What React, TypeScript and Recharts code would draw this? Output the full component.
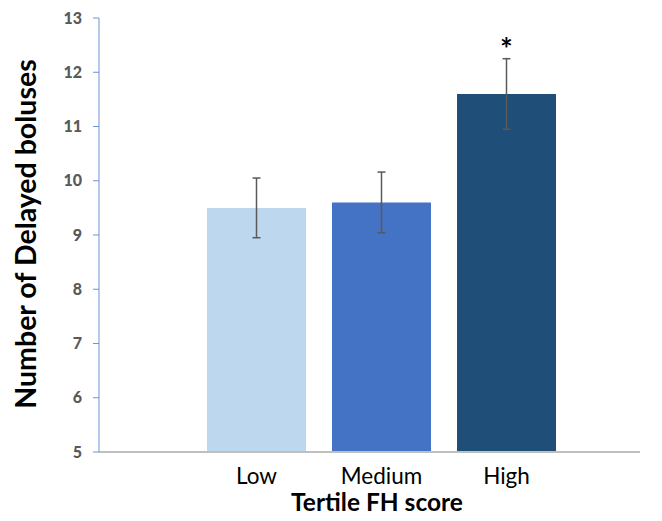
import {
  BarChart,
  Bar,
  Cell,
  XAxis,
  YAxis,
  ErrorBar,
  LabelList,
} from "recharts";

const categories = ["Low", "Medium", "High"];
const means = [9.5, 9.6, 11.6];
const errors = [0.55, 0.56, 0.65];
const marks = ["", "", "*"];
const colors = ["#bdd7ee", "#4472c4", "#1f4e79"];
const yTicks = [5, 6, 7, 8, 9, 10, 11, 12, 13];

const data = categories.map((name, i) => ({
  name,
  value: means[i],
  err: errors[i],
  sig: marks[i],
}));

const font = "Lato, 'Open Sans', sans-serif";

export default function App() {
  return (
    <div style={{ position: "absolute", left: 0, top: 0, background: "#fff" }}>
      <BarChart
        width={662}
        height={521}
        data={data}
        margin={{ top: 18, right: 22, bottom: 0, left: 0 }}
      >
        <XAxis
          dataKey="name"
          height={69}
          padding={{ left: 95, right: 71 }}
          axisLine={{ stroke: "#bfbfbf", strokeWidth: 2 }}
          tickLine={false}
          tick={{ fill: "#000", fontSize: 22.5, fontFamily: font }}
          tickMargin={10}
          label={{
            content: () => (
              <text
                x={377}
                y={511}
                textAnchor="middle"
                fontFamily={font}
                fontWeight="bold"
                fontSize={24.5}
                fill="#000"
              >
                Tertile FH score
              </text>
            ),
          }}
        />
        <YAxis
          width={99}
          domain={[5, 13]}
          ticks={yTicks}
          interval={0}
          allowDataOverflow
          axisLine={{ stroke: "#6f93d3" }}
          tickLine={{ stroke: "#6f93d3" }}
          tickSize={6}
          tickMargin={11}
          tick={{ fill: "#595959", fontSize: 16, fontWeight: 900, fontFamily: font }}
          label={{
            content: () => (
              <text
                x={25}
                y={234}
                transform="rotate(-90 25 234)"
                textAnchor="middle"
                dominantBaseline="central"
                fontFamily={font}
                fontWeight="bold"
                fontSize={28.5}
                fill="#000"
              >
                Number of Delayed boluses
              </text>
            ),
          }}
        />
        <Bar dataKey="value" barSize={99} isAnimationActive={false}>
          {data.map((d, i) => (
            <Cell key={d.name} fill={colors[i]} />
          ))}
          <ErrorBar dataKey="err" width={4} stroke="#595959" strokeWidth={1.5} />
          <LabelList
            dataKey="sig"
            content={(p: any) =>
              p.value ? (
                <text
                  x={p.x + p.width / 2}
                  y={p.y - 34}
                  textAnchor="middle"
                  fontFamily={font}
                  fontWeight="bold"
                  fontSize={30}
                  fill="#000"
                >
                  {p.value}
                </text>
              ) : null
            }
          />
        </Bar>
      </BarChart>
    </div>
  );
}
